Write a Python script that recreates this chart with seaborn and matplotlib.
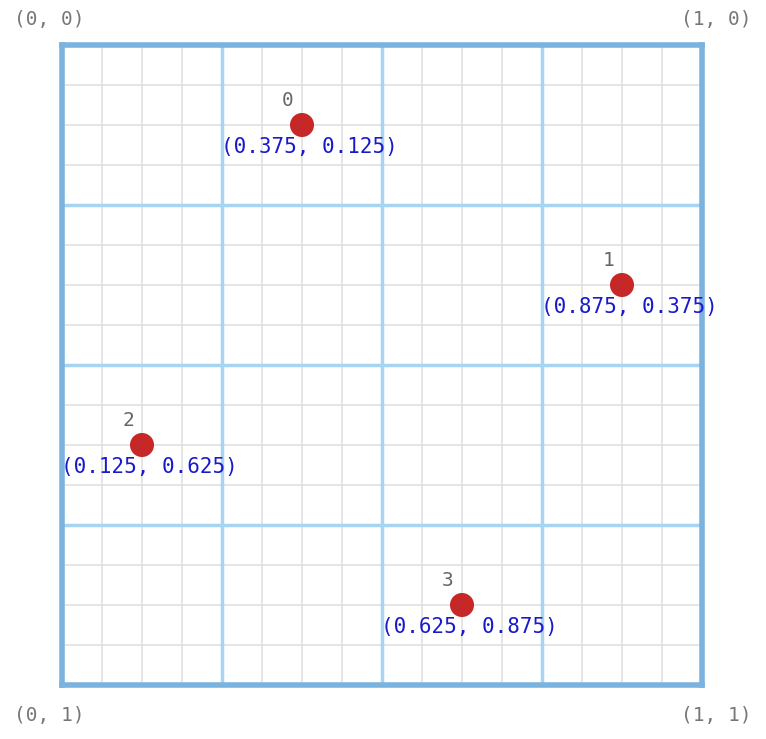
import matplotlib
matplotlib.use('agg')
import numpy as np
import pandas as pd
import matplotlib.pyplot as plt
import seaborn as sns

xs = [0.375, 0.875, 0.125, 0.625]
ys = [0.125, 0.375, 0.625, 0.875]
ids = ['0', '1', '2', '3']
corners = [(0, 0, '(0, 0)'), (1, 0, '(1, 0)'), (0, 1, '(0, 1)'), (1, 1, '(1, 1)')]

df = pd.DataFrame({'x': xs, 'y': ys, 'id': ids})

sns.set_style('white')
plt.rcParams['font.family'] = ['DejaVu Sans Mono']

fig = plt.figure(figsize=(7.66, 7.39), dpi=100)
ax = fig.add_axes([62/766, 54/739, 640/766, 640/739])

for v in np.arange(0, 1.0001, 1/16):
    ax.axvline(v, color='#e0e0e0', lw=1.2, zorder=0)
    ax.axhline(v, color='#e0e0e0', lw=1.2, zorder=0)
for v in [0.25, 0.5, 0.75]:
    ax.axvline(v, color='#a6d4f2', lw=2.5, zorder=1)
    ax.axhline(v, color='#a6d4f2', lw=2.5, zorder=1)

sns.scatterplot(data=df, x='x', y='y', ax=ax, color='#c62828', s=300,
                edgecolor='none', zorder=3, legend=False)

for _, r in df.iterrows():
    ax.annotate(r['id'], (r['x'], r['y']), xytext=(-10, 11), textcoords='offset points',
                ha='center', va='bottom', color='#666666', fontsize=14)
    ax.annotate('(%g, %g)' % (r['x'], r['y']), (r['x'], r['y']), xytext=(-58, -9),
                textcoords='offset points', ha='left', va='top', color='#1a1acc', fontsize=15)

ax.set_xlim(0, 1)
ax.set_ylim(1, 0)
ax.set_xticks([])
ax.set_yticks([])
ax.set_xlabel('')
ax.set_ylabel('')
for s in ax.spines.values():
    s.set_color('#7ab3e0')
    s.set_linewidth(4)

for cx, cy, t in corners:
    dx = -9 if cx == 0 else 10
    dy = 18 if cy == 0 else -22
    ax.annotate(t, (cx, cy), xytext=(dx, dy), textcoords='offset points',
                ha='center', va='center', color='#777777', fontsize=14, annotation_clip=False)

plt.savefig('out.png')
